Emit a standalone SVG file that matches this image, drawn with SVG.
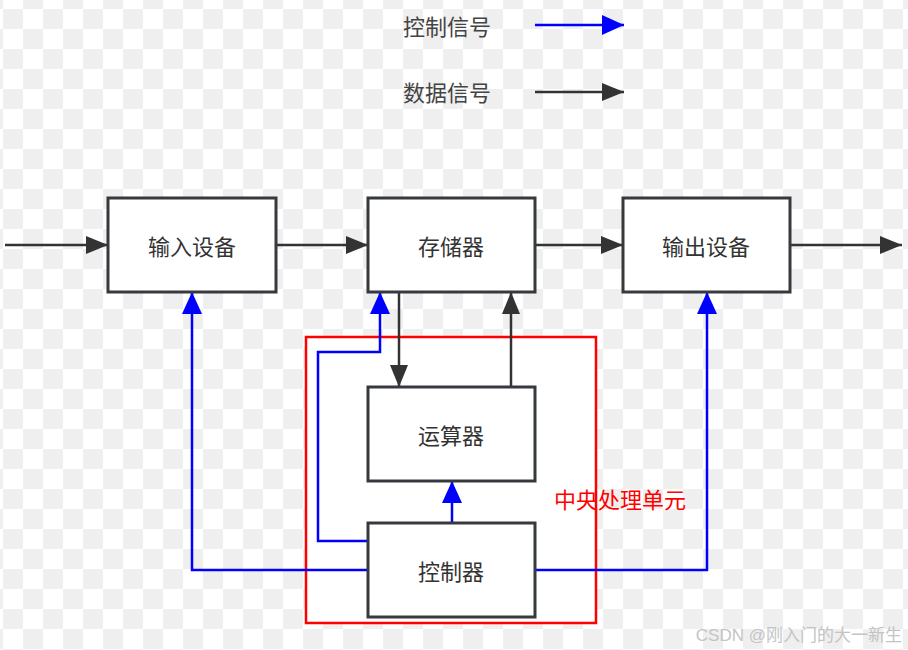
<svg xmlns="http://www.w3.org/2000/svg" width="908" height="650" viewBox="0 0 908 650">
<defs>
<pattern id="chk" patternUnits="userSpaceOnUse" x="3" y="9" width="40" height="40">
<rect width="40" height="40" fill="#ffffff"/>
<rect width="20" height="20" fill="#efefef"/>
<rect x="20" y="20" width="20" height="20" fill="#efefef"/>
</pattern>
<marker id="ak" markerUnits="userSpaceOnUse" markerWidth="23" markerHeight="18" refX="22" refY="9" orient="auto">
<path d="M0,0 L22,9 L0,18 z" fill="#333333"/>
</marker>
<marker id="ab" markerUnits="userSpaceOnUse" markerWidth="23" markerHeight="20" refX="22" refY="10" orient="auto">
<path d="M0,0 L22,10 L0,20 z" fill="#0000ff"/>
</marker>
</defs>
<style>
.node rect{fill:#ffffff;stroke:#36393d;stroke-width:3}
.lbl{font-family:"Noto Sans CJK SC","Noto Sans",sans-serif;font-size:22px;fill:#333333;text-anchor:middle;dominant-baseline:central}
.blk{fill:none;stroke:#333333;stroke-width:2.5;marker-end:url(#ak)}
.blu{fill:none;stroke:#0000ff;stroke-width:2.5;marker-end:url(#ab)}
</style>
<rect width="908" height="650" fill="url(#chk)"/>

<g id="legend">
<text class="lbl" x="447" y="25" style="fill:#444444">控制信号</text>
<path class="blu" d="M535,25 L624,25"/>
<text class="lbl" x="447" y="91" style="fill:#444444">数据信号</text>
<path class="blk" d="M535,92 L624,92"/>
</g>

<g id="cpu">
<rect x="306" y="337" width="290" height="286" fill="#ffffff" stroke="#ff0000" stroke-width="2.5"/>
<text class="lbl" x="620" y="498" style="fill:#ff0000">中央处理单元</text>
</g>

<g id="connectors">
<path class="blk" d="M5,245 L108,245"/>
<path class="blk" d="M276,245 L368,245"/>
<path class="blk" d="M535,245 L623,245"/>
<path class="blk" d="M790,245 L902,245"/>
<path class="blk" d="M399,292 L399,387"/>
<path class="blk" d="M511,387 L511,292"/>
<path class="blu" d="M368,541 L318,541 L318,352 L380,352 L380,292"/>
<path class="blu" d="M452,523 L452,481"/>
<path class="blu" d="M368,570 L192,570 L192,292"/>
<path class="blu" d="M535,570 L707,570 L707,292"/>
</g>

<g id="input" class="node">
<rect x="108" y="198" width="168" height="94"/>
<text class="lbl" x="192" y="245">输入设备</text>
</g>
<g id="memory" class="node">
<rect x="368" y="198" width="167" height="94"/>
<text class="lbl" x="451" y="245">存储器</text>
</g>
<g id="output" class="node">
<rect x="623" y="198" width="167" height="94"/>
<text class="lbl" x="706" y="245">输出设备</text>
</g>
<g id="alu" class="node">
<rect x="368" y="387" width="167" height="94"/>
<text class="lbl" x="451" y="434">运算器</text>
</g>
<g id="controller" class="node">
<rect x="368" y="523" width="167" height="94"/>
<text class="lbl" x="451" y="570">控制器</text>
</g>

<text x="902" y="641" font-family="Liberation Sans, Noto Sans CJK SC, sans-serif" font-size="17" fill="#c4c4c4" text-anchor="end">CSDN @刚入门的大一新生</text>
</svg>
